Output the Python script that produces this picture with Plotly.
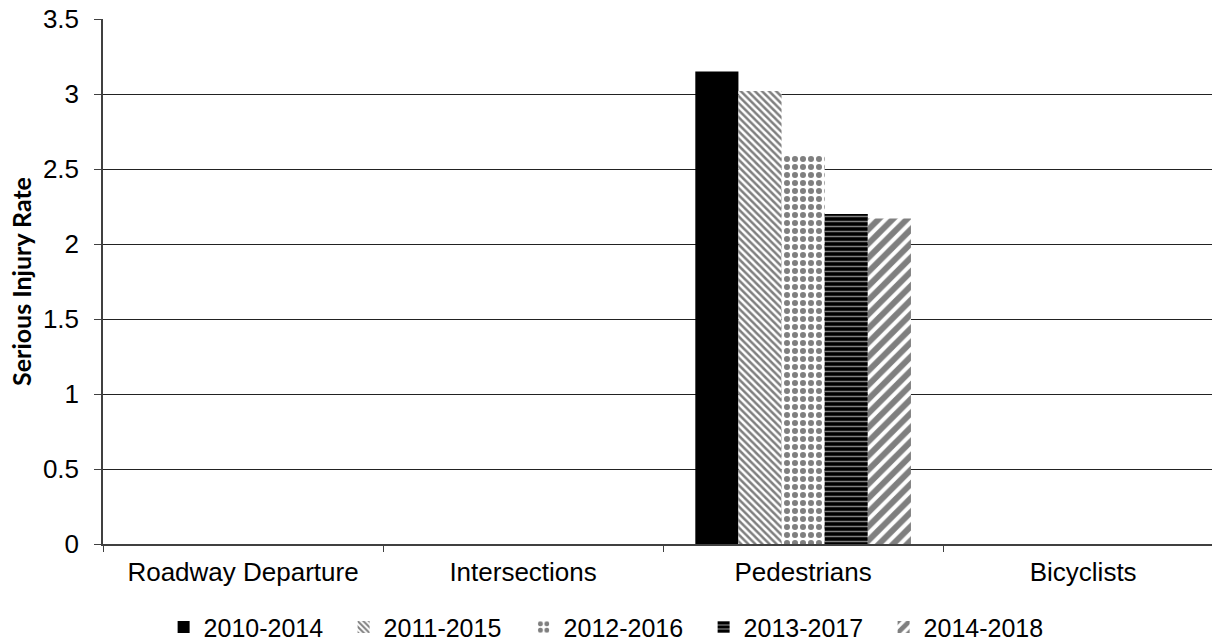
import plotly.graph_objects as go

categories = ["Roadway Departure", "Intersections", "Pedestrians", "Bicyclists"]
series_names = ["2010-2014", "2011-2015", "2012-2016", "2013-2017", "2014-2018"]
series_values = [
    [None, None, 3.15, None],
    [None, None, 3.02, None],
    [None, None, 2.60, None],
    [None, None, 2.20, None],
    [None, None, 2.17, None],
]
y_ticks = [0, 0.5, 1, 1.5, 2, 2.5, 3, 3.5]
y_ticklabels = ["0", "0.5", "1", "1.5", "2", "2.5", "3", "3.5"]

patterns = [
    dict(shape="", fgcolor="black", bgcolor="black"),
    dict(shape="\\", fgcolor="black", bgcolor="white", size=5, solidity=0.5),
    dict(shape=".", fgcolor="black", bgcolor="white", size=8, solidity=0.45),
    dict(shape="-", fgcolor="white", bgcolor="black", size=5, solidity=0.3),
    dict(shape="/", fgcolor="black", bgcolor="white", size=10, solidity=0.6),
]

FONT = "Liberation Sans"

fig = go.Figure()
for name, vals, pat in zip(series_names, series_values, patterns):
    fig.add_trace(go.Bar(
        x=categories, y=vals, name=name,
        marker=dict(color="black", line=dict(width=0), pattern=pat),
    ))

fig.update_layout(
    width=1212, height=644,
    margin=dict(l=103, r=0, t=19, b=100),
    paper_bgcolor="white", plot_bgcolor="white",
    barmode="group", bargap=0.23, bargroupgap=0,
    font=dict(family=FONT, size=26, color="black"),
    showlegend=True,
    legend=dict(orientation="h", xref="container", x=0.135, xanchor="left",
                yref="container", y=0.026, yanchor="middle",
                font=dict(family=FONT, size=25), itemwidth=30,
                entrywidth=135, traceorder="normal"),
)
fig.update_xaxes(
    type="category", range=[-0.5, 3.46],
    showline=True, linecolor="#404040", linewidth=1.5,
    ticks="outside", tickson="boundaries", ticklen=6, tickcolor="#404040",
    showgrid=False, tickfont=dict(family=FONT, size=26), ticklabelstandoff=4,
)
fig.update_yaxes(
    range=[0, 3.5], tickvals=y_ticks, ticktext=y_ticklabels,
    showline=True, linecolor="#404040", linewidth=1.5,
    ticks="outside", ticklen=7, tickcolor="#404040",
    showgrid=True, gridcolor="#222222", gridwidth=1.2,
    zeroline=False, tickfont=dict(family=FONT, size=26), ticklabelstandoff=10,
    title=dict(text="<b>Serious Injury Rate</b>",
               font=dict(family="Lato", size=25), standoff=4),
)

fig.write_html("out.html")
